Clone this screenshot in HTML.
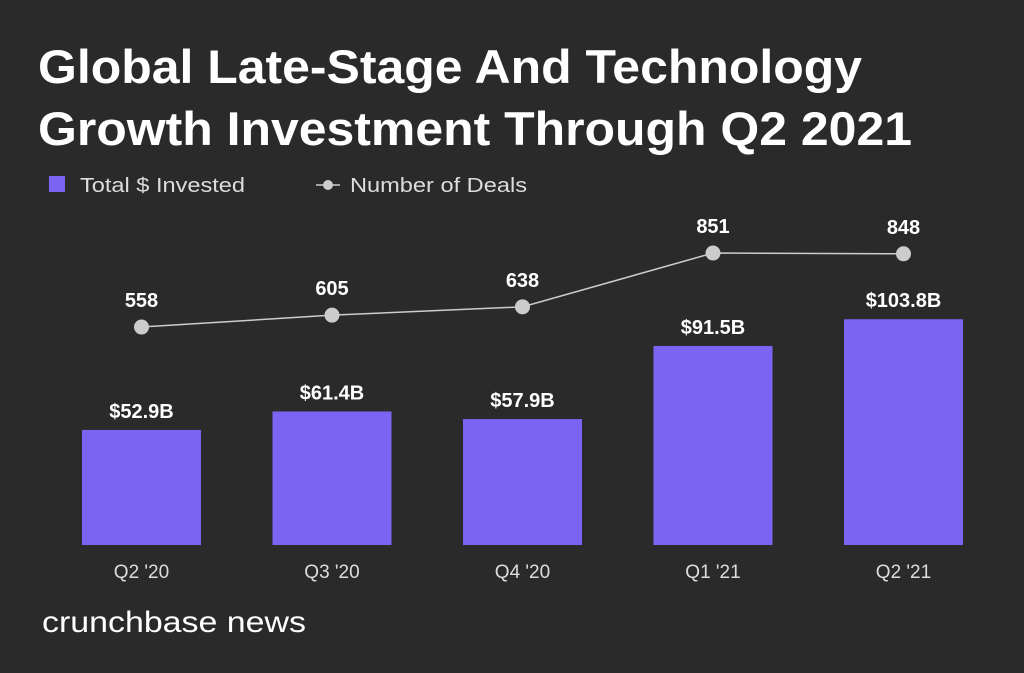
<!DOCTYPE html>
<html><head><meta charset="utf-8"><style>
body{margin:0;background:#2a2a2a;width:1024px;height:668px;overflow:hidden;font-family:"Liberation Sans",sans-serif}
</style></head><body>
<svg width="1024" height="668" viewBox="0 0 1024 668">
<rect width="1024" height="668" fill="#2a2a2a"/>
<text x="38" y="83" fill="#fff" font-size="47" font-weight="bold" textLength="824" lengthAdjust="spacingAndGlyphs">Global Late-Stage And Technology</text>
<text x="38" y="145" fill="#fff" font-size="47" font-weight="bold" textLength="874" lengthAdjust="spacingAndGlyphs">Growth Investment Through Q2 2021</text>
<g>
<rect x="49" y="176" width="16" height="16" fill="#7b64f2"/>
<text x="80" y="192" fill="#ddd" font-size="20" textLength="165" lengthAdjust="spacingAndGlyphs">Total $ Invested</text>
<line x1="316" y1="185" x2="340" y2="185" stroke="#ccc" stroke-width="1.5"/>
<circle cx="328" cy="185" r="5" fill="#ccc"/>
<text x="350" y="192" fill="#ddd" font-size="20" textLength="177" lengthAdjust="spacingAndGlyphs">Number of Deals</text>
</g>
<g id="plot"></g>
<text x="42" y="632" fill="#fff" font-size="30" textLength="264" lengthAdjust="spacingAndGlyphs">crunchbase news</text>
</svg>
<script>
const categories=["Q2 '20","Q3 '20","Q4 '20","Q1 '21","Q2 '21"];
const invested=[52.9,61.4,57.9,91.5,103.8];
const investedLabels=["$52.9B","$61.4B","$57.9B","$91.5B","$103.8B"];
const deals=[558,605,638,851,848];
const NS="http://www.w3.org/2000/svg";
const g=document.getElementById('plot');
function xC(i){return 141.5+i*190.5;}
function yBar(v){return 545-v*2.175;}
function yDeal(v){return 468-v*0.2526;}
function mk(t,a){const e=document.createElementNS(NS,t);for(const k in a)e.setAttribute(k,a[k]);g.appendChild(e);return e;}
categories.forEach((c,i)=>{
 const r=mk('rect',{x:xC(i)-59.5,y:yBar(invested[i]),width:119,height:545-yBar(invested[i]),fill:'#7b64f2'});
 
 
 const t=mk('text',{x:xC(i),y:yBar(invested[i])-12,fill:'#fff','font-size':20,'font-weight':'bold','text-anchor':'middle'});
 t.textContent=investedLabels[i];
 
 
 const xl=mk('text',{x:xC(i),y:578,fill:'#ddd','font-size':19,'text-anchor':'middle'});
 xl.textContent=c;
 
 
});
const pl=mk('polyline',{points:deals.map((d,i)=>xC(i)+','+yDeal(d)).join(' '),fill:'none',stroke:'#ccc','stroke-width':1.5});


deals.forEach((d,i)=>{
 const c=mk('circle',{cx:xC(i),cy:yDeal(d),r:7.5,fill:'#ccc'});
 
 
 const t=mk('text',{x:xC(i),y:yDeal(d)-20,fill:'#fff','font-size':20,'font-weight':'bold','text-anchor':'middle'});
 t.textContent=d;
 
 
});
</script>
</body></html>
